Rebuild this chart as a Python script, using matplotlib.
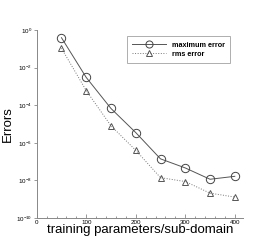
import matplotlib
matplotlib.use("Agg")
import matplotlib.pyplot as plt
from matplotlib.ticker import MultipleLocator, LogLocator

# data
params = [50, 100, 150, 200, 250, 300, 350, 400]
max_error = [3.9e-1, 3.0e-3, 6.7e-5, 3.5e-6, 1.4e-7, 4.6e-8, 1.15e-8, 1.65e-8]
rms_error = [1.07e-1, 6.0e-4, 8.0e-6, 4.0e-7, 1.4e-8, 8.7e-9, 2.1e-9, 1.3e-9]

plt.rcParams['font.family'] = ['Liberation Sans', 'DejaVu Sans']

fig = plt.figure(figsize=(2.77, 2.46), dpi=100)
ax = fig.add_axes([0.1325, 0.1138, 0.7455, 0.7642])

ax.plot(params, max_error, color='#555555', lw=0.7, marker='o', ms=6,
        mfc='none', mec='#444444', mew=0.7, label='maximum error')
ax.plot(params, rms_error, color='#777777', lw=0.7, ls=':', marker='^', ms=5,
        mfc='none', mec='#555555', mew=0.7, label='rms error')

ax.set_yscale('log')
ax.set_xlim(0, 417)
ax.set_ylim(1e-10, 1e0)
ax.yaxis.set_major_locator(LogLocator(base=100))
ax.yaxis.set_minor_locator(LogLocator(base=10, subs=[]))
ax.xaxis.set_major_locator(MultipleLocator(100))
ax.xaxis.set_minor_locator(MultipleLocator(20))

for s in ['top', 'right']:
    ax.spines[s].set_visible(False)
for s in ['left', 'bottom']:
    ax.spines[s].set_color('#888888')
    ax.spines[s].set_linewidth(0.7)

ax.tick_params(axis='both', which='both', labelsize=4.5, color='#888888', width=0.6, pad=1.5)
ax.tick_params(axis='x', which='major', direction='in', length=3)
ax.tick_params(axis='x', which='minor', direction='in', length=1.5)
ax.tick_params(axis='y', which='major', direction='out', length=2)

ax.set_xlabel('training parameters/sub-domain', fontsize=9.5, labelpad=-0.5)
ax.set_ylabel('Errors', fontsize=9.5, labelpad=1)

leg = ax.legend(loc='upper right', bbox_to_anchor=(0.955, 0.985),
                prop={'weight': 'bold', 'size': 5.2}, frameon=True, fancybox=False,
                handlelength=4.8, borderpad=0.7, labelspacing=0.3, handletextpad=0.8,
                markerscale=0.85)
leg.get_frame().set_edgecolor('#999999')
leg.get_frame().set_linewidth(0.7)

fig.savefig('out.png', dpi=100)
